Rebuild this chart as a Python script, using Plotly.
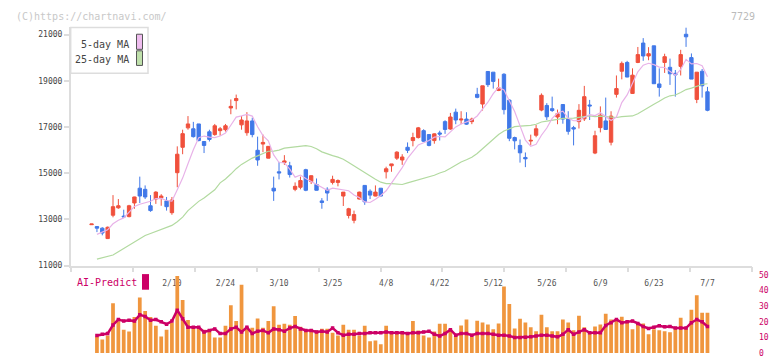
import plotly.graph_objects as go
import pandas as pd

# ---------------- data ----------------
opens = [12770, 12690, 12620, 12170, 13180, 13500, 13140, 13120, 13710, 14350,
         14300, 13590, 13880, 13930, 13800, 13290, 15020, 16120, 16960, 16920,
         17130, 16370, 16790, 16670, 16840, 16880, 17820, 18140, 17090, 16750,
         17260, 15990, 16260, 15650, 14350, 15060, 15460, 15320, 14300, 14390,
         15150, 14640, 14510, 13800, 14300, 14600, 14600, 14010, 13170, 12960,
         13880, 14470, 14220, 14010, 14350, 15060, 15320, 15650, 15570, 16120,
         16410, 16540, 16840, 16670, 16410, 16740, 17230, 16910, 17640, 17300,
         17340, 17230, 18410, 17990, 19400, 19370, 18580, 19280, 18160, 16540,
         16200, 15680, 16390, 16640, 17730, 17930, 17790, 17430, 17970, 17340,
         16970, 17230, 17350, 17950, 15870, 16970, 17260, 16340, 18410, 19410,
         19790, 18450, 19790, 20630, 20070, 20510, 18860, 19790, 19580, 19320,
         19620, 21010, 20000, 18190, 19410, 18520]
closes = [12800, 12620, 12410, 12660, 13550, 13590, 13110, 13590, 13970, 14010,
          13970, 13380, 14180, 14010, 13550, 13840, 15820, 16710, 17130, 16580,
          16410, 16200, 16460, 17050, 16920, 17050, 17890, 18230, 17300, 17260,
          16670, 15570, 16330, 16160, 14230, 15010, 15530, 14940, 14430, 14680,
          14260, 14890, 14260, 13730, 14140, 14730, 14680, 14180, 13460, 13210,
          14180, 13760, 14050, 14180, 14010, 15190, 15400, 15910, 15700, 15990,
          16540, 16960, 16380, 16200, 16700, 16690, 16890, 17430, 17300, 17340,
          17120, 17340, 18280, 18780, 18830, 18970, 18690, 17750, 16510, 16400,
          15880, 15620, 16420, 16920, 18370, 17440, 17710, 17570, 17340, 16810,
          16910, 17720, 18310, 17910, 16620, 17510, 16890, 17470, 18660, 19750,
          19160, 19240, 20130, 20070, 20170, 18870, 18710, 20040, 19300, 19250,
          20130, 20900, 19070, 19370, 18780, 17720]
highs = [12800, 12690, 12660, 12690, 14050, 13880, 13420, 13630, 13980, 14850,
         14470, 14050, 14220, 14090, 13970, 13970, 16160, 16880, 17470, 17220,
         17130, 16380, 16880, 17130, 17000, 17130, 18190, 18400, 17470, 17640,
         17400, 16580, 16670, 16170, 14850, 15490, 15780, 15490, 14600, 14850,
         15190, 14900, 14770, 13920, 14390, 14890, 14730, 14180, 13500, 13380,
         14200, 14480, 14300, 14470, 14350, 15280, 15400, 15950, 15820, 16330,
         16750, 17000, 16900, 16680, 16720, 16835, 17290, 17607, 17793, 17680,
         17637, 17400, 18692, 18780, 19400, 19370, 19090, 19324, 18198, 16580,
         16456, 15895, 16667, 17088, 18451, 18029, 18312, 17751, 17975, 17680,
         17046, 17987, 18776, 18170, 16835, 17890, 18270, 17679, 19227, 19831,
         19860, 19535, 20460, 20843, 20451, 20510, 19535, 20168, 19957, 19464,
         20337, 21307, 20180, 19370, 19506, 18734]
lows = [12770, 12450, 12310, 12150, 13090, 13460, 13080, 13090, 13460, 13710,
        13880, 13330, 13670, 13590, 13380, 13200, 14390, 15820, 16880, 16540,
        16380, 15870, 16370, 16620, 16620, 16800, 17550, 17760, 16880, 16620,
        16550, 15320, 15910, 15640, 13800, 14730, 15360, 14810, 14220, 14300,
        14220, 14530, 14250, 13460, 13800, 14510, 14430, 13580, 13040, 12830,
        13860, 13630, 13880, 14000, 14000, 14770, 15060, 15570, 15360, 15870,
        16160, 16500, 16350, 16160, 16275, 16413, 16700, 16878, 17118, 17118,
        17089, 17120, 18240, 17710, 18730, 18660, 18550, 17540, 16384, 16030,
        15456, 15261, 16202, 16553, 17679, 17300, 17650, 17118, 17140, 16667,
        16202, 16932, 17257, 17300, 15823, 16764, 16880, 16202, 18270, 19059,
        19150, 18425, 19760, 19860, 19886, 18870, 18312, 19337, 18818, 18312,
        19227, 20464, 19070, 18030, 18270, 17679]

# moving-average values read where the average reaches back before the first candle
ma5_head = [None, 12350, 12450, 12550]
ma25_head = [None, 11280, 11330, 11390, 11460, 11600, 11740, 11870, 12000, 12140,
             12300, 12390, 12480, 12580, 12660, 12740, 12900, 13100, 13380, 13580,
             13780, 13930, 14100, 14280]

ai_bars = [None,
           10.6, 8.75, 11.25, 31.9, 20.4, 15, 13.75, 23.1, 35.6, 26.9,
           23.1, 17.5, 10.6, 15, 19.4, 49.4, 34, 21.25, 16.9, 16.9,
           15, 15, 10, 10, 17.5, 30.6, 20.6, 43.75, 16.9, 16.25,
           22.1, 16.25, 20.6, 30, 18.1, 18.75, 18.1, 23.75, 16.9, 15,
           15, 14.4, 15.6, 15.6, 13.1, 11.25, 18.1, 15, 15, 11.25,
           17.5, 7.5, 8.1, 5.6, 17.5, 13.75, 13.75, 13.75, 13.1, 20.6,
           14.4, 11.25, 10, 13.75, 18.75, 18.75, 15, 11.25, 17.7, 21.5,
           10.4, 20.8, 19.6, 18.3, 15.2, 19, 42.7, 31.5, 15.8, 22,
           19.6, 16.5, 14, 24.6, 16.5, 14, 14, 21.5, 19.6, 14.6,
           24, 16.5, 13.3, 17, 18.3, 25.2, 21.5, 20.8, 23.3, 20.8,
           15.2, 19, 19, 12, 15.2, 14.6, 14, 13.3, 15.8, 22.7,
           15.8, 27.7, 37, 25.8, 25.8]
ai_line = [None,
           11.25, 12, 12.5, 18, 21.5, 20.5, 21, 20.5, 24.5, 23.5,
           21, 21.5, 20, 18.5, 20.5, 27.5, 22, 16.5, 16.5, 16.5,
           13.5, 14.5, 15.5, 12.5, 12.5, 15.5, 16.5, 13.5, 16.5, 12.5,
           14, 14.5, 13, 15.5, 15, 14, 16, 17, 15.5, 14.5,
           14.5, 13.5, 14, 13.5, 16, 13, 11.5, 12, 12, 12.5,
           12.5, 13, 13, 13, 13.5, 13, 13, 13, 12.5, 13,
           13, 13.5, 14, 12, 11, 12.5, 15, 11.5, 12.5, 12.5,
           11.5, 12.5, 12.5, 12.5, 12, 11.5, 11.5, 11, 10, 10,
           10.2, 10.4, 11, 11.5, 11.5, 11, 10.4, 12, 15, 12,
           13.5, 15, 13, 13, 13, 17.7, 19.5, 21.5, 19.5, 20,
           20.5, 19, 17, 15.8, 16.5, 17.5, 16.8, 17, 16, 16,
           16, 19.5, 21.5, 20, 17]

tick_idx = [15, 25, 35, 45, 55, 65, 75, 85, 95, 105, 115]
tick_text = ["2/10", "2/24", "3/10", "3/25", "4/8", "4/22", "5/12", "5/26", "6/9", "6/23", "7/7"]
price_ticks = [11000, 13000, 15000, 17000, 19000, 21000]
ai_ticks = [0, 10, 20, 30, 40, 50]

# ---------------- derived ----------------
n = len(closes)
idx = list(range(n))
cs = pd.Series(closes, dtype=float)
ma5 = cs.rolling(5).mean().tolist()
ma25 = cs.rolling(25).mean().tolist()
for i, v in enumerate(ma5_head):
    ma5[i] = v
for i, v in enumerate(ma25_head):
    ma25[i] = v

# ---------------- styling ----------------
W, H = 772, 361
RED = "#f0503c"
BLUE = "#4078e8"
PINK = "#e8b2e8"
GREEN = "#b2daa0"
ORANGE = "#f0963e"
CRIMSON = "#cc0066"
AX = "#dddddd"
MONO = "DejaVu Sans Mono, Liberation Mono, monospace"

def px(x):
    return x / W

def py(y):
    return 1 - y / H

XMIN, XMAX = -3.9, 123.37
TICK0 = -3.88
DT = (123.35 - TICK0) / 11

fig = go.Figure()
fig.add_trace(go.Scatter(x=idx, y=ma25, mode="lines", line=dict(color=GREEN, width=1.2),
                         hoverinfo="skip", showlegend=False, xaxis="x", yaxis="y"))
fig.add_trace(go.Scatter(x=idx, y=ma5, mode="lines", line=dict(color=PINK, width=1.2),
                         hoverinfo="skip", showlegend=False, xaxis="x", yaxis="y"))
fig.add_trace(go.Candlestick(x=idx, open=opens, high=highs, low=lows, close=closes,
                             increasing=dict(line=dict(color=RED, width=1), fillcolor=RED),
                             decreasing=dict(line=dict(color=BLUE, width=1), fillcolor=BLUE),
                             whiskerwidth=0, showlegend=False, xaxis="x", yaxis="y"))
fig.add_trace(go.Bar(x=idx, y=ai_bars, marker=dict(color=ORANGE, line=dict(width=0)),
                     showlegend=False, xaxis="x2", yaxis="y2"))
fig.add_trace(go.Scatter(x=idx, y=ai_line, mode="lines+markers",
                         line=dict(color=CRIMSON, width=2.5),
                         marker=dict(color=CRIMSON, size=3.5, symbol="square"),
                         showlegend=False, xaxis="x2", yaxis="y2"))

xdom = [px(70.7), px(752.3)]
fig.update_layout(
    width=W, height=H,
    margin=dict(l=0, r=0, t=0, b=0),
    paper_bgcolor="white", plot_bgcolor="white",
    boxgap=0.1, bargap=0.3,
    showlegend=False,
    xaxis=dict(domain=xdom, range=[XMIN, XMAX], anchor="y",
               rangeslider=dict(visible=False),
               tickmode="array", tickvals=tick_idx, ticktext=tick_text,
               ticks="outside", ticklen=9, tickcolor="rgba(0,0,0,0)",
               tickfont=dict(family=MONO, size=8, color="#555555"),
               showline=True, linecolor=AX, linewidth=1.5,
               showgrid=False, zeroline=False,
               minor=dict(ticks="outside", tick0=TICK0, dtick=DT, ticklen=5,
                          tickcolor=AX, tickwidth=1.5, showgrid=False)),
    yaxis=dict(domain=[py(268.3), py(24)], range=[11000, 21307], anchor="x",
               tickmode="array", tickvals=price_ticks,
               ticktext=[str(v) for v in price_ticks],
               ticks="outside", ticklen=5, tickcolor=AX, tickwidth=1.5,
               tickfont=dict(family=MONO, size=8, color="#444444"),
               showline=True, linecolor=AX, linewidth=1.5,
               showgrid=False, zeroline=False),
    xaxis2=dict(domain=xdom, range=[XMIN, XMAX], anchor="y2", matches="x",
                showticklabels=False, showline=False, showgrid=False, zeroline=False,
                ticks=""),
    yaxis2=dict(domain=[py(358), py(278)], range=[0, 50], anchor="x2", side="right",
                tickmode="array", tickvals=ai_ticks,
                ticktext=[str(v) for v in ai_ticks],
                ticks="outside", ticklen=4, tickcolor="rgba(0,0,0,0)",
                tickfont=dict(family=MONO, size=8, color=CRIMSON),
                showline=False, showgrid=False, zeroline=False),
)

shapes = [
    dict(type="rect", xref="paper", yref="paper", x0=px(70.7), x1=px(148), y0=py(71), y1=py(24),
         line=dict(color=AX, width=1.5), fillcolor="white", layer="above"),
    dict(type="rect", xref="paper", yref="paper", x0=px(136.5), x1=px(142.5), y0=py(46.5), y1=py(31),
         line=dict(color="#555555", width=1), fillcolor="#efbdef", layer="above"),
    dict(type="rect", xref="paper", yref="paper", x0=px(136.5), x1=px(142.5), y0=py(63), y1=py(48),
         line=dict(color="#555555", width=1), fillcolor="#bfe0ab", layer="above"),
    dict(type="rect", xref="paper", yref="paper", x0=px(142), x1=px(149), y0=py(293), y1=py(277),
         line=dict(width=0), fillcolor=CRIMSON, layer="above"),
]
fig.update_layout(shapes=shapes)

ann = [
    dict(text="(C)https://chartnavi.com/", x=px(14), y=py(12.5), xanchor="left", yanchor="middle",
         font=dict(family=MONO, size=10, color="#c8c8c8")),
    dict(text="7729", x=px(757), y=py(12.5), xanchor="right", yanchor="middle",
         font=dict(family=MONO, size=10, color="#bbbbbb")),
    dict(text="5-day MA", x=px(130.5), y=py(41.5), xanchor="right", yanchor="middle",
         font=dict(family=MONO, size=10, color="#444444")),
    dict(text="25-day MA", x=px(130.5), y=py(57), xanchor="right", yanchor="middle",
         font=dict(family=MONO, size=10, color="#444444")),
    dict(text="AI-Predict", x=px(75), y=py(286), xanchor="left", yanchor="middle",
         font=dict(family=MONO, size=10, color=CRIMSON)),
]
for a in ann:
    a.update(xref="paper", yref="paper", showarrow=False)
fig.update_layout(annotations=ann)

fig.write_html("out.html")
